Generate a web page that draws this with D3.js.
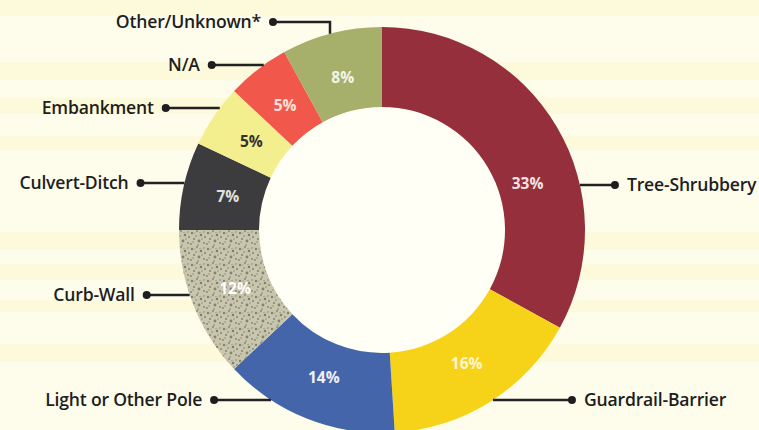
<!DOCTYPE html>
<meta charset="utf-8">
<style>
body { margin: 0; background: #fdfbe6; }
.label { font: 600 17.6px "Open Sans", sans-serif; fill: #1e1e1e; letter-spacing: -0.2px; }
.pct { font: 700 15.5px "Open Sans", sans-serif; text-anchor: middle; dominant-baseline: central; }
.leader { fill: none; stroke: #222; stroke-width: 2.5px; }
</style>
<body>
<svg width="759" height="430"></svg>
<script src="https://d3js.org/d3.v7.min.js"></script>
<script>
// data, clockwise from 12 o'clock
var categories = ["Tree-Shrubbery", "Guardrail-Barrier", "Light or Other Pole", "Curb-Wall",
                  "Culvert-Ditch", "Embankment", "N/A", "Other/Unknown*"];
var shares = [33, 16, 14, 12, 7, 5, 5, 8];
var pctLabels = ["33%", "16%", "14%", "12%", "7%", "5%", "5%", "8%"];

var colors = ["#952f3b", "#f6d319", "#4465a9", "url(#speckle)", "#3c3c3e", "#f4ef8e", "#f1584b", "#a7b06b"];
var pctColors = ["#f3e3e6", "#fff6d0", "#eef0f8", "#ffffff", "#e0e0e0", "#333333", "#ffe2dc", "#f4f4ea"];

var svg = d3.select("svg"),
    cx = 382, cy = 230,
    outerR = 203, innerR = 123;

// faint paper bands
var bands = [[0, 16], [62, 80], [98, 114], [136, 150], [232, 250], [264, 280], [300, 312], [344, 362]];
svg.append("rect").attr("width", 759).attr("height", 430).attr("fill", "#fefdec");
svg.selectAll(".band").data(bands).enter().append("rect")
    .attr("class", "band")
    .attr("x", 0).attr("width", 759)
    .attr("y", function(d) { return d[0]; })
    .attr("height", function(d) { return d[1] - d[0]; })
    .attr("fill", "#fbf4bd").attr("opacity", 0.35);

// speckled texture for Curb-Wall
var defs = svg.append("defs");
var pat = defs.append("pattern").attr("id", "speckle")
    .attr("patternUnits", "userSpaceOnUse").attr("width", 16).attr("height", 16);
pat.append("rect").attr("width", 16).attr("height", 16).attr("fill", "#c9c6ae");
[[2, 3, 1.2], [7, 1, 0.9], [11, 5, 1.3], [4, 9, 1.0], [9, 11, 1.4], [14, 13, 0.9], [1, 14, 0.9],
 [6, 6, 0.8], [14, 2, 0.8], [12, 9, 0.7], [3, 12, 0.7], [8, 15, 0.8], [10, 2.5, 0.6], [5, 3, 0.6], [15, 7, 0.9]]
  .forEach(function(p) {
    pat.append("circle").attr("cx", p[0]).attr("cy", p[1]).attr("r", p[2]).attr("fill", "#6a695c").attr("opacity", 0.75);
  });

var g = svg.append("g").attr("transform", "translate(" + cx + "," + cy + ")");

var pie = d3.pie().sort(null).value(function(d) { return d; });
var arc = d3.arc().innerRadius(innerR).outerRadius(outerR);
var arcs = pie(shares);

g.append("circle").attr("r", innerR).attr("fill", "#fffff6");

g.selectAll(".slice").data(arcs).enter().append("path")
    .attr("class", "slice")
    .attr("d", arc)
    .attr("fill", function(d, i) { return colors[i]; });

// percent labels; the big slice label sits next to its leader
var labelArc = d3.arc().innerRadius(158).outerRadius(158);
g.selectAll(".pct").data(arcs).enter().append("text")
    .attr("class", "pct")
    .attr("transform", function(d, i) {
      var a = i === 0 ? 72 * Math.PI / 180 : (d.startAngle + d.endAngle) / 2;
      var c = i === 0 ? [153 * Math.sin(a), -153 * Math.cos(a)] : labelArc.centroid(d);
      return "translate(" + c[0] + "," + c[1] + ")";
    })
    .attr("fill", function(d, i) { return pctColors[i]; })
    .text(function(d, i) { return pctLabels[i]; });

// leader layout: dy from center, side, line length
var leaders = {
  "Tree-Shrubbery":      { dy: -45, side: 1, len: 35 },
  "Guardrail-Barrier":   { dy: 170, side: 1, len: 79 },
  "Light or Other Pole": { dy: 170, side: -1, len: 57 },
  "Curb-Wall":           { dy: 65, side: -1, len: 43 },
  "Culvert-Ditch":       { dy: -47, side: -1, len: 44 },
  "Embankment":          { dy: -122, side: -1, len: 54 },
  "N/A":                 { dy: -165, side: -1, len: 52 },
  "Other/Unknown*":      { dy: -208, side: -1, len: 57, elbowX: -52 }
};

categories.forEach(function(name) {
  var L = leaders[name], x0, x1, y = L.dy, pts;
  if (L.elbowX !== undefined) {
    var yRing = -Math.sqrt(outerR * outerR - L.elbowX * L.elbowX);
    x0 = L.elbowX;
    x1 = x0 - L.len;
    pts = [[x0, yRing], [x0, y], [x1, y]];
  } else {
    x0 = L.side * Math.sqrt(outerR * outerR - y * y);
    x1 = x0 + L.side * L.len;
    pts = [[x0, y], [x1, y]];
  }
  g.append("path").attr("class", "leader").attr("d", d3.line()(pts));
  g.append("circle").attr("cx", x1).attr("cy", y).attr("r", 4).attr("fill", "#1e1e1e");
  g.append("text").attr("class", "label")
    .attr("x", x1 + L.side * 12).attr("y", y)
    .attr("dy", "0.35em")
    .attr("text-anchor", L.side > 0 ? "start" : "end")
    .text(name);
});
</script>
</body>
